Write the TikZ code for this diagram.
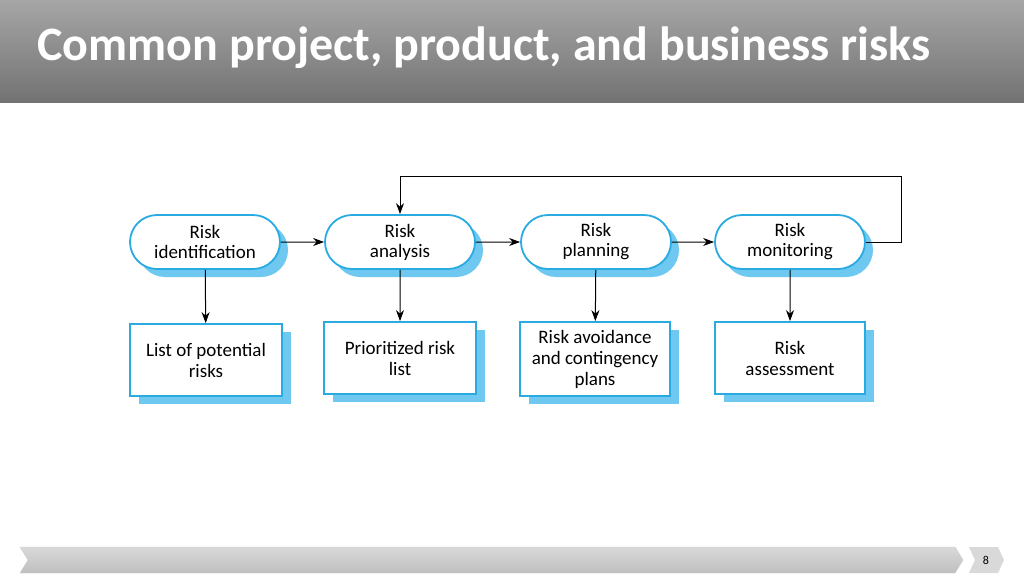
\documentclass[tikz,border=0pt]{standalone}
\usepackage{fontspec}
\setmainfont{Carlito}
\usetikzlibrary{shapes.misc,arrows.meta,shadows}
\definecolor{cb}{RGB}{41,171,226}
\definecolor{cs}{RGB}{110,200,240}
\begin{document}
\begin{tikzpicture}[x=1pt,y=-1pt,
 pill/.style={rounded rectangle,draw=cb,line width=1.8pt,fill=white,minimum width=150pt,minimum height=54pt,align=center,font=\fontsize{19}{20}\selectfont,inner sep=0pt,
   drop shadow={shadow xshift=8pt,shadow yshift=-8pt,fill=cs,opacity=1}},
 box/.style={rectangle,draw=cb,line width=1.8pt,fill=white,minimum width=152pt,minimum height=72pt,align=center,font=\fontsize{19}{21}\selectfont,inner sep=0pt,
   drop shadow={shadow xshift=9pt,shadow yshift=-8pt,fill=cs,opacity=1}},
 arr/.style={-{Stealth[length=11pt,width=8pt]},line width=1pt}]
\useasboundingbox (0,0) rectangle (1024,576);
\shade[top color=gray!70,bottom color=gray!90!black] (0,0) rectangle (1024,102);
\node[anchor=west,text=white,font=\fontsize{48}{52}\selectfont\bfseries] (title) at (34,48) {Common project, product, and business risks};
\node[pill] (p1) at (205,242) {Risk\\identification};
\node[pill] (p2) at (400,242) {Risk\\analysis};
\node[pill] (p3) at (596,242) {Risk\\planning};
\node[pill] (p4) at (790,242) {Risk\\monitoring};
\node[box] (b1) at (206,360) {List of potential\\risks};
\node[box] (b2) at (400,358) {Prioritized risk\\list};
\node[box,minimum width=150pt,minimum height=74pt] (b3) at (595,359) {Risk avoidance\\and contingency\\plans};
\node[box,minimum width=150pt] (b4) at (790,358) {Risk\\assessment};
\draw[arr] (p1) -- (p2);
\draw[arr] (p2) -- (p3);
\draw[arr] (p3) -- (p4);
\foreach \i in {1,2,3,4}{\draw[arr] (p\i) -- (b\i);}
\coordinate (c1) at (901,176);
\draw[arr] (p4.east) -| (c1) -| (p2.north);
\shade[top color=gray!30,bottom color=gray!50,draw=gray!40] (20,547) -- (955,547) -- (963,560) -- (955,573) -- (20,573) -- (28,560) -- cycle;
\fill[gray!30] (969,547) -- (998,547) -- (1004,560) -- (998,573) -- (969,573) -- (975,560) -- cycle;
\node[font=\fontsize{12}{12}\selectfont] (pg) at (986,560) {8};
\end{tikzpicture}
\end{document}
